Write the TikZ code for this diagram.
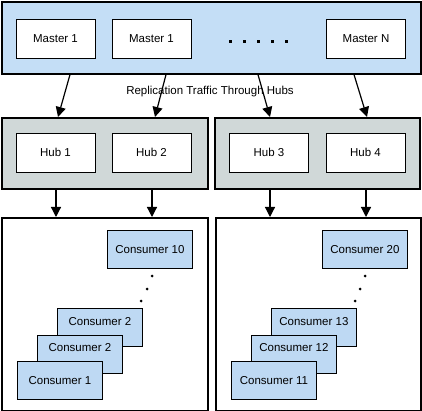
\documentclass[tikz,border=0pt]{standalone}
\usepackage{fontspec}
\setmainfont{Liberation Sans}
\usetikzlibrary{arrows.meta}
\definecolor{masterblue}{HTML}{C4DEF6}
\definecolor{hubgray}{HTML}{D0D8D8}
\definecolor{consblue}{HTML}{BED9F3}
\tikzset{
    group/.style={draw, line width=1.6pt, inner sep=0pt, anchor=north west},
    box/.style={draw, line width=0.8pt, fill=white, minimum width=79pt, minimum height=39pt, font=\fontsize{11.5}{13}\selectfont},
    cons/.style={draw, line width=0.8pt, fill=consblue, minimum width=85pt, minimum height=38pt, anchor=north west, inner sep=0pt},
    constext/.style={font=\fontsize{11.5}{13}\selectfont, inner sep=0pt},
    flow/.style={-{Triangle[width=10pt,length=10pt]}, line width=1.2pt},
}
\begin{document}
\begin{tikzpicture}[x=1pt, y=-1pt]
    \useasboundingbox (0,0) rectangle (422,411);

    % Masters
    \node[group, fill=masterblue, minimum width=419pt, minimum height=72pt] (masters) at (1,1) {};
    \node[box] (master1) at (55.5,38.5) {Master 1};
    \node[box] (master2) at (151.5,38.5) {Master 1};
    \node[box] (masterN) at (366,38.5) {Master N};
    \foreach \x in {230,244,...,286}
        \fill (\x-1.5,40.5) rectangle (\x+1.5,43.5);

    % Hubs
    \node[group, fill=hubgray, minimum width=206pt, minimum height=71pt] (hubsL) at (1,117) {};
    \node[group, fill=hubgray, minimum width=205pt, minimum height=71pt] (hubsR) at (214,117) {};
    \node[box] (hub1) at (55.5,152.5) {Hub 1};
    \node[box] (hub2) at (151.5,152.5) {Hub 2};
    \node[box] (hub3) at (269,152.5) {Hub 3};
    \node[box] (hub4) at (365.5,152.5) {Hub 4};

    % Replication traffic
    \node[font=\fontsize{11.5}{13}\selectfont] (traffic) at (210,92) {Replication Traffic Through Hubs};
    \draw[flow] ([xshift=69pt]masters.south west) -- ([xshift=57pt]hubsL.north west);
    \draw[flow] ([xshift=165pt]masters.south west) -- ([xshift=154pt]hubsL.north west);
    \draw[flow] ([xshift=257pt]masters.south west) -- ([xshift=56pt]hubsR.north west);
    \draw[flow] ([xshift=353pt]masters.south west) -- ([xshift=153pt]hubsR.north west);

    % Consumers
    \node[group, fill=white, minimum width=206pt, minimum height=193pt] (consL) at (1,217) {};
    \node[group, fill=white, minimum width=205pt, minimum height=193pt] (consR) at (215,217) {};

    \draw[flow] ([xshift=55pt]hubsL.south west) -- ([xshift=55pt]consL.north west);
    \draw[flow] ([xshift=151pt]hubsL.south west) -- ([xshift=151pt]consL.north west);
    \draw[flow] ([xshift=56pt]hubsR.south west) -- ([xshift=55pt]consR.north west);
    \draw[flow] ([xshift=152pt]hubsR.south west) -- ([xshift=151pt]consR.north west);

    % left stack
    \node[cons] (c10) at (107,230) {};
    \node[constext] (c10t) at (c10.center) {Consumer 10};
    \node[cons] (c3) at (57,308) {};
    \node[constext] (c3t) at ([yshift=-13.5pt]c3.north) {Consumer 2};
    \node[cons] (c2) at (37,335) {};
    \node[constext] (c2t) at ([yshift=-13pt]c2.north) {Consumer 2};
    \node[cons] (c1) at (17,361) {};
    \node[constext] (c1t) at (c1.center) {Consumer 1};
    \fill (152,276) circle (1.5pt) (147,289) circle (1.5pt) (141,301) circle (1.5pt);

    % right stack
    \node[cons] (c20) at (322,230) {};
    \node[constext] (c20t) at (c20.center) {Consumer 20};
    \node[cons] (c13) at (271,308) {};
    \node[constext] (c13t) at ([yshift=-13.5pt]c13.north) {Consumer 13};
    \node[cons] (c12) at (251,335) {};
    \node[constext] (c12t) at ([yshift=-13pt]c12.north) {Consumer 12};
    \node[cons] (c11) at (231,361) {};
    \node[constext] (c11t) at (c11.center) {Consumer 11};
    \fill (365,276) circle (1.5pt) (360,289) circle (1.5pt) (355,301) circle (1.5pt);
\end{tikzpicture}
\end{document}
